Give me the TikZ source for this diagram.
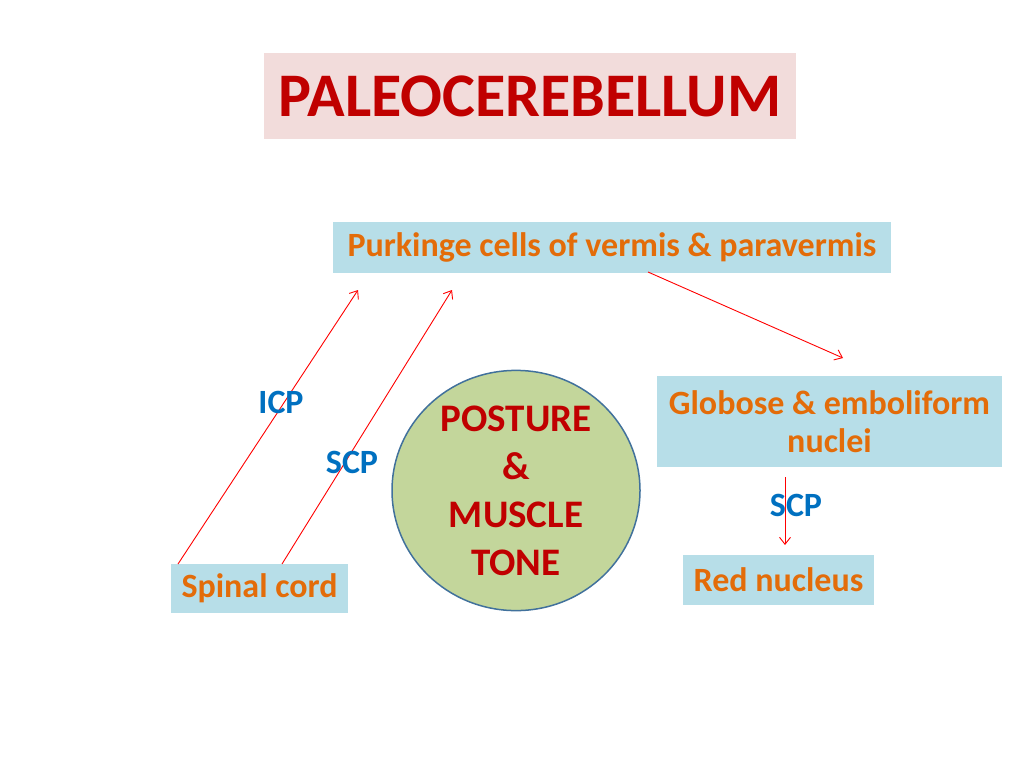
\documentclass[tikz,border=0pt]{standalone}
\usepackage{fontspec}
\setmainfont{Carlito}
\usepackage{tikz}
\usetikzlibrary{arrows,arrows.meta,shapes.geometric}

\definecolor{titlepink}{HTML}{F2DCDB}
\definecolor{titlered}{HTML}{C00000}
\definecolor{boxblue}{HTML}{B7DEE8}
\definecolor{textorange}{HTML}{E36C09}
\definecolor{tractblue}{HTML}{0070C0}
\definecolor{ovalgreen}{HTML}{C3D69B}
\definecolor{ovalrim}{HTML}{41719C}

\begin{document}
\begin{tikzpicture}[x=1pt,y=-1pt,
    pathbox/.style={fill=boxblue,inner sep=0pt,align=center,text=textorange,
                    font=\fontsize{34}{38}\selectfont\bfseries},
    tract/.style={text=tractblue,font=\fontsize{34}{38}\selectfont\bfseries},
    fibre/.style={red,line width=0.9pt,-{Straight Barb[length=7pt,width=11pt]}}]
    \useasboundingbox (0,0) rectangle (1024,768);

    % heading
    \node[fill=titlepink,minimum width=532pt,minimum height=85pt,inner sep=0pt,
          text=titlered,font=\fontsize{62}{70}\selectfont\bfseries] (title) at (530,96) {PALEOCEREBELLUM};

    % boxes
    \node[pathbox,minimum width=558pt,minimum height=51pt] (purkinje) at (612,247.5) {\raisebox{-2pt}{Purkinge cells of vermis \& paravermis}};
    \node[pathbox,minimum width=345pt,minimum height=91pt] (globose) at (829.5,421.5) {Globose \& emboliform\\nuclei};
    \node[pathbox,minimum width=191pt,minimum height=50pt] (rednuc) at (778.5,580) {Red nucleus};
    \node[pathbox,minimum width=177pt,minimum height=49pt] (spinal) at (259.5,588.5) {\raisebox{-3pt}{Spinal cord}};

    \node[ellipse,draw=ovalrim,line width=1.5pt,fill=ovalgreen,minimum width=248pt,minimum height=228pt,
          inner sep=0pt,align=center,text=titlered,font=\fontsize{39}{48}\selectfont\bfseries] (tone) at (516,490.5)
          {POSTURE\\\&\\MUSCLE\\TONE};

    % fibres
    \coordinate (icptip) at (358,290);
    \coordinate (scptip) at (452,290);
    \coordinate (icpfoot) at (178,564);
    \coordinate (scpfoot) at (282,564);
    \coordinate (outfoot) at (648,272);
    \coordinate (outtip) at (843,358);
    \coordinate (nucfoot) at (785,477);
    \coordinate (nuctip) at (785,545);

    \draw[fibre] (icpfoot) -- (icptip);
    \draw[fibre] (scpfoot) -- (scptip);
    \draw[fibre] (outfoot) -- (outtip);
    \draw[fibre] (nucfoot) -- (nuctip);

    \node[tract] (icp) at (281,402) {ICP};
    \node[tract] (scpleft) at (352,462) {SCP};
    \node[tract] (scpright) at (796,505) {SCP};
\end{tikzpicture}
\end{document}
